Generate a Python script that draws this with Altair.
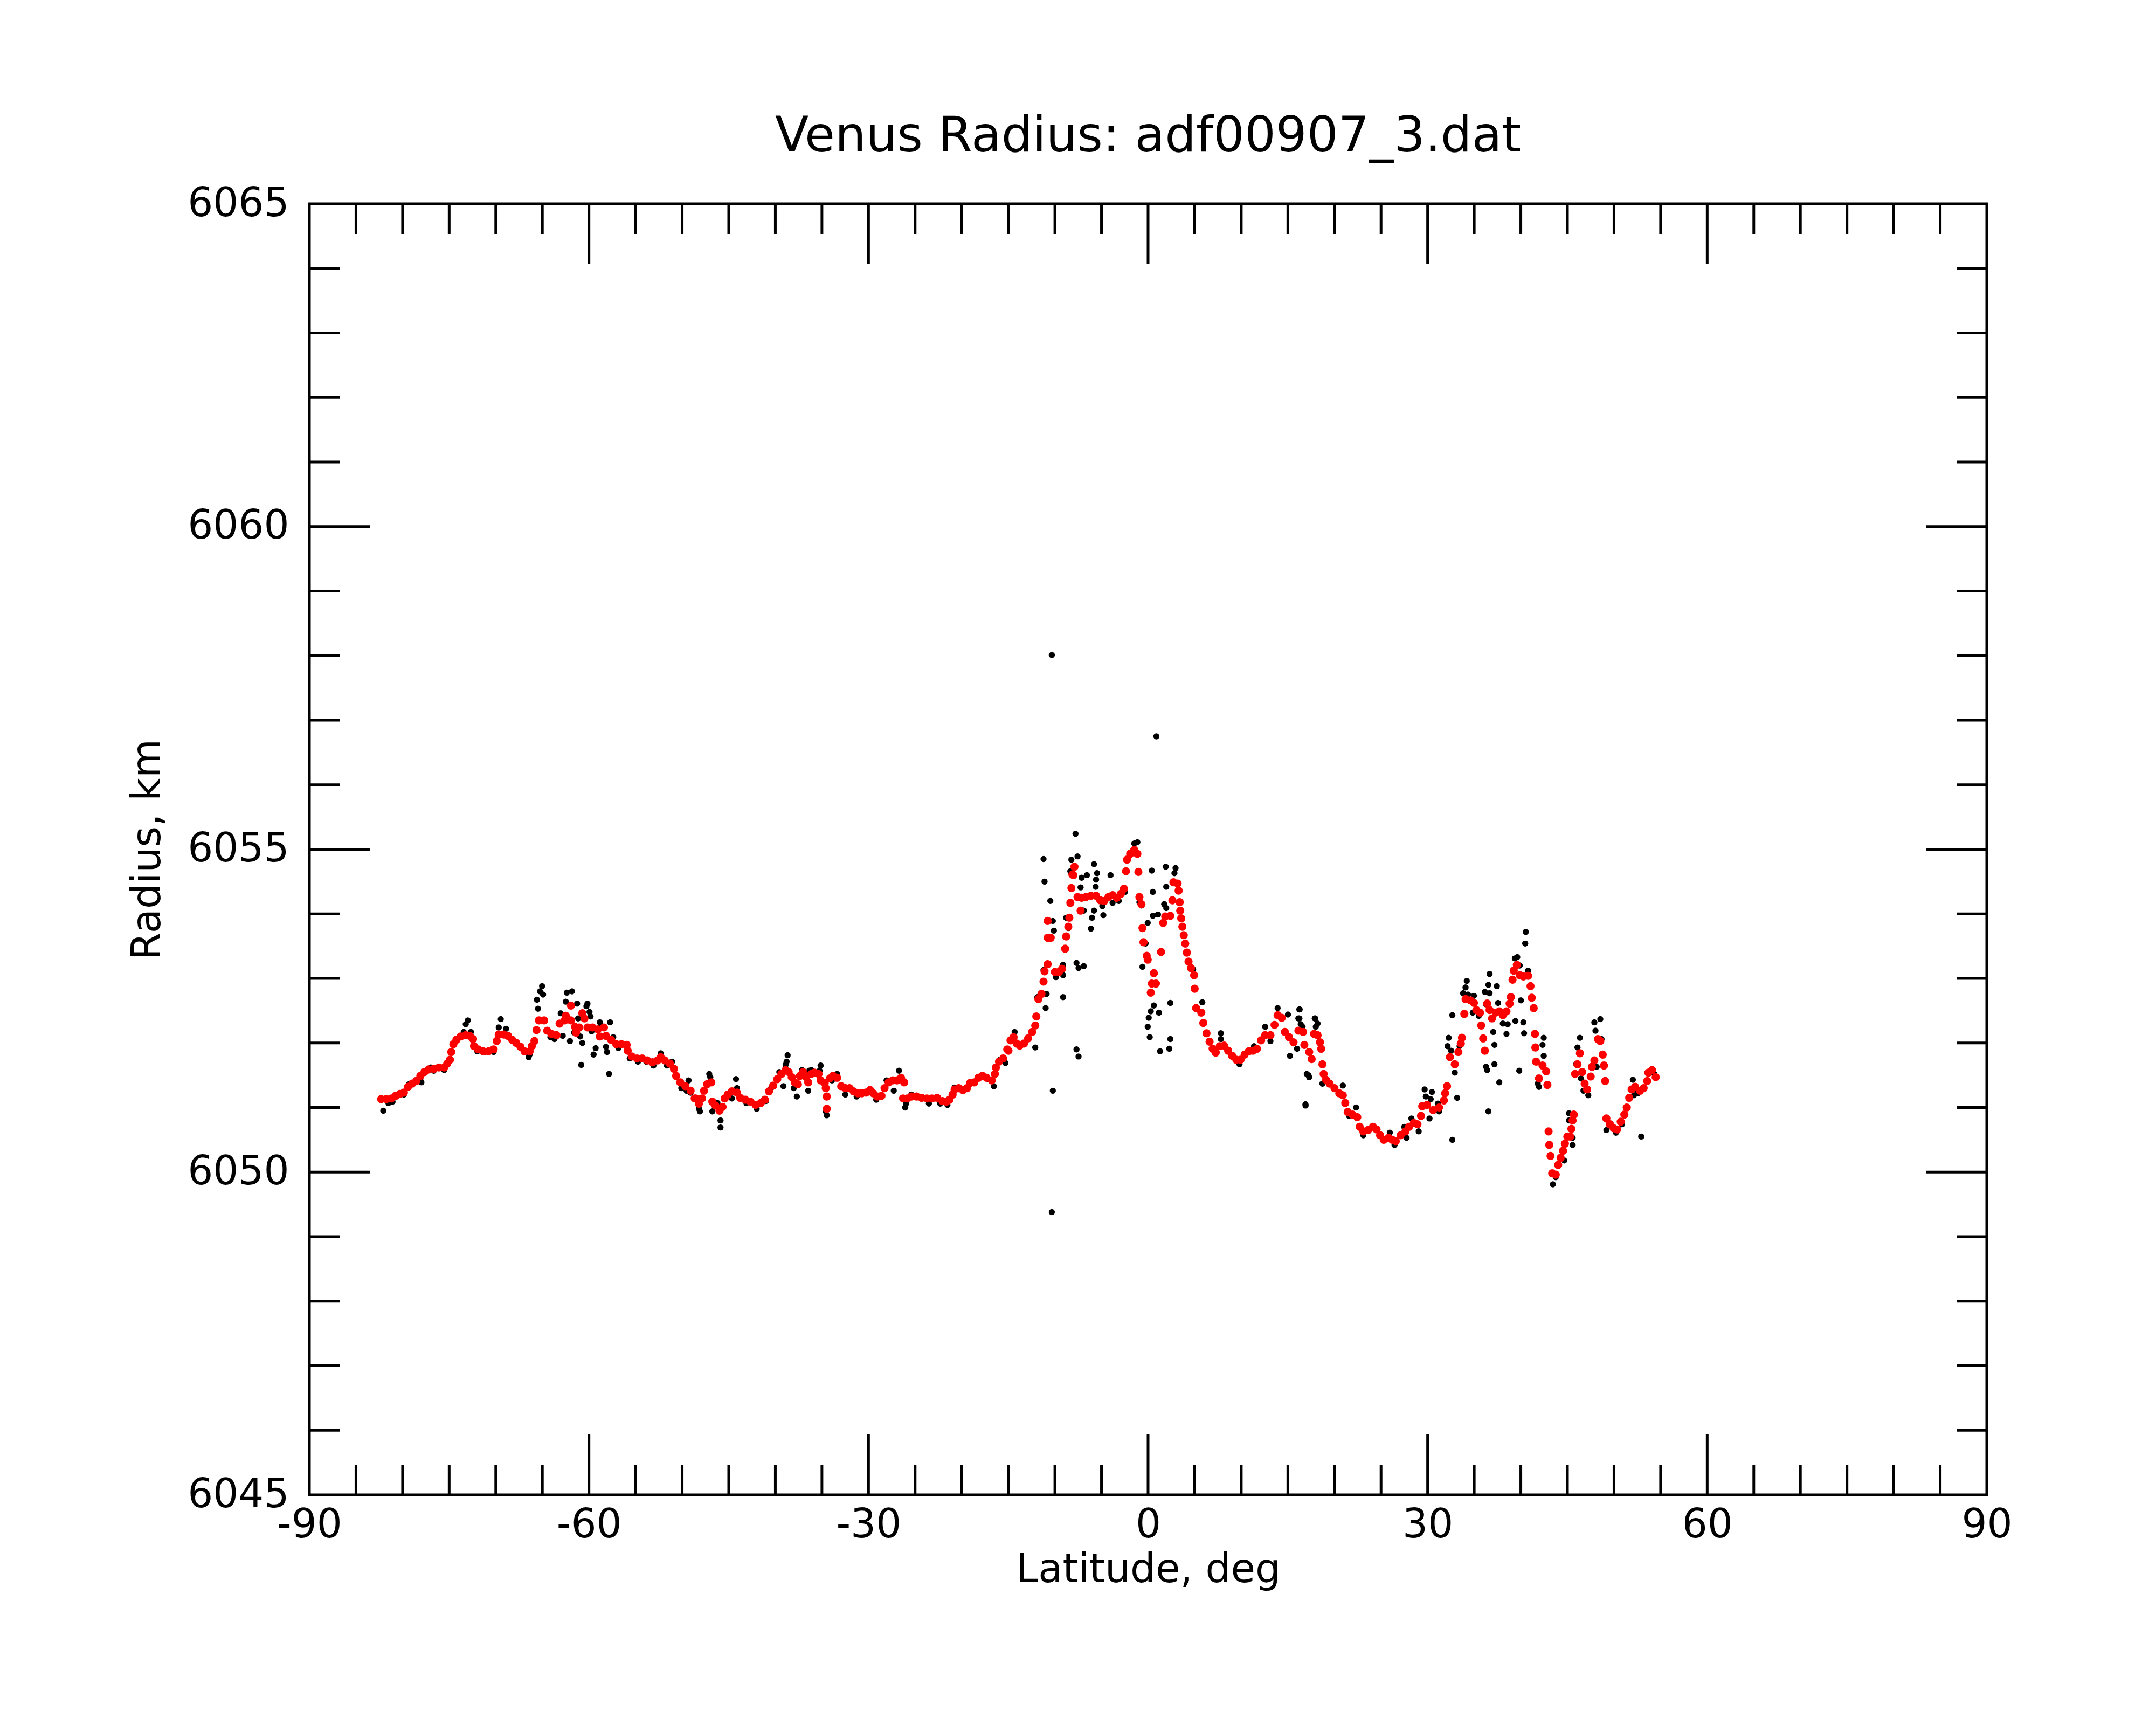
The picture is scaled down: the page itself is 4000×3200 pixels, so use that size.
import altair as alt
import pandas as pd

# ---------------- data ----------------
red_lat = [
    -82.29, -81.74, -81.19, -80.74, -80.30, -79.86, -79.42, -78.97, -78.53, -78.09,
    -77.65, -77.20, -76.65, -76.10, -75.54, -75.21, -74.92, -74.77, -74.55, -74.22,
    -73.77, -73.22, -72.78, -72.44, -72.33, -71.89, -71.34, -70.78, -70.23, -69.90,
    -69.68, -69.13, -68.68, -68.24, -67.80, -67.35, -66.91, -66.36, -66.14, -65.85,
    -65.63, -65.36, -64.81, -64.48, -64.03, -63.48, -63.15, -62.60, -62.48, -61.93,
    -61.93, -61.49, -61.38, -61.05, -60.71, -60.49, -60.16, -59.61, -59.05, -58.83,
    -58.39, -58.17, -57.62, -57.06, -56.51, -55.95, -55.84, -55.40, -54.85, -54.29,
    -53.74, -53.19, -52.64, -52.30, -51.86, -51.31, -50.87, -50.64, -50.20, -49.65,
    -49.09, -48.65,
    -48.53, -48.20, -47.87, -47.65, -47.32, -46.87, -46.76, -46.43, -45.99, -45.66,
    -45.43, -45.10, -44.66, -44.11, -43.77, -43.22, -42.67, -42.11, -41.56, -41.12,
    -40.68, -40.23, -39.79, -39.35, -38.90, -38.57, -38.24, -37.91, -37.58, -37.36,
    -37.02, -36.69, -36.47, -36.14, -35.81, -35.36, -35.14, -34.70, -34.59, -34.48,
    -34.48, -34.15, -33.81, -33.37, -32.93, -32.49, -32.04, -31.60, -31.16, -30.71,
    -30.27, -29.83, -29.50, -29.06, -28.61, -28.28, -27.84, -27.40, -26.95, -26.51,
    -26.18, -26.29, -25.85, -25.40, -24.85, -24.30, -23.74, -23.19, -22.64, -22.08,
    -21.64, -21.31, -20.98, -20.76, -20.31, -19.87, -19.43, -19.10, -18.65, -18.21,
    -17.77, -17.33, -16.77, -16.44, -16.33, -16.00, -15.55, -15.11,
    -14.98, -14.76, -14.43, -14.10, -13.77, -13.32, -12.88, -12.44, -12.11, -11.99,
    -11.77, -11.44, -11.22, -11.11, -10.78, -10.78, -10.45, -10.78, -10.00, -9.56,
    -9.23, -8.90, -8.79, -8.56, -8.45, -8.34, -8.23, -8.01, -7.90, -8.12,
    -7.57, -7.24, -7.13, -6.68, -6.13, -5.58, -5.13, -4.69, -4.25, -3.81,
    -3.36, -2.92, -2.59, -2.37, -2.26, -1.92, -1.48, -1.15, -1.04, -0.93,
    -0.71, -0.60, -0.49, -0.15, -0.04, 0.62, 0.84, 0.40, 0.29, 1.40,
    1.62, 1.84, 2.39, 2.61, 2.72, 3.17, 3.28, 3.39, 3.45, 3.56,
    3.68, 3.83, 3.99, 4.16, 4.34, 4.61, 4.94, 5.00, 5.16, 5.71,
    5.93, 6.27, 6.60, 6.93, 7.26, 7.70, 8.15, 8.59, 9.03, 9.47,
    9.92, 10.36, 10.80, 11.25, 11.69, 12.13, 12.57, 13.13, 13.57, 13.90,
    14.34, 14.68, 15.12,
    15.61, 16.13, 16.64, 16.77, 17.29, 17.55, 17.80, 18.19, 18.45, 18.58,
    18.71, 18.84, 19.10, 19.48, 20.00, 20.52, 20.90, 21.16, 21.42, 21.94,
    22.45, 22.71, 23.10, 23.61, 24.13, 24.52, 24.90, 25.29, 25.81, 26.20,
    26.58, 27.10, 27.62, 28.00, 28.52, 28.91, 29.29, 29.42, 29.94, 30.59,
    31.23, 31.75, 31.88, 32.08, 32.39, 32.91, 33.30, 33.56, 33.68, 33.94,
    34.07, 34.59, 34.97, 35.23, 35.62, 35.75, 35.96, 36.14, 36.39, 36.65,
    36.91, 37.30, 37.69, 38.07, 38.46, 38.80, 38.93, 39.11, 39.24, 39.57,
    39.88, 40.27, 40.78, 41.04, 41.17, 41.38, 41.51, 41.56, 41.64, 41.95,
    42.33, 42.72, 42.85, 42.98, 43.06, 43.19, 43.37, 43.75, 44.01, 44.27,
    44.53, 44.73, 44.99, 45.30, 45.43, 45.56, 45.69, 45.82, 46.08, 46.34,
    46.59, 46.85, 47.11, 47.50, 47.63, 47.89, 48.27, 48.53, 48.79, 48.92,
    49.05, 49.18, 49.56, 49.95, 50.34, 50.72, 51.11, 51.37, 51.63, 51.89,
    52.27, 52.79, 53.18, 53.56, 53.69, 54.08, 54.47,
]
red_rad = [
    6051.13, 6051.13, 6051.14, 6051.18, 6051.21, 6051.23, 6051.32, 6051.37, 6051.41, 6051.49,
    6051.55, 6051.59, 6051.60, 6051.62, 6051.62, 6051.68, 6051.74, 6051.86, 6051.98, 6052.05,
    6052.10, 6052.12, 6052.11, 6052.06, 6051.95, 6051.90, 6051.87, 6051.87, 6051.90, 6052.03,
    6052.13, 6052.13, 6052.11, 6052.05, 6052.00, 6051.94, 6051.87, 6051.87, 6051.95, 6052.03,
    6052.20, 6052.35, 6052.35, 6052.19, 6052.14, 6052.12, 6052.30, 6052.35, 6052.42, 6052.58,
    6052.35, 6052.25, 6052.16, 6052.24, 6052.46, 6052.38, 6052.24, 6052.24, 6052.21, 6052.10,
    6052.24, 6052.11, 6052.05, 6051.98, 6051.98, 6051.97, 6051.88, 6051.79, 6051.76, 6051.76,
    6051.73, 6051.70, 6051.73, 6051.78, 6051.73, 6051.68, 6051.60, 6051.49, 6051.39, 6051.33,
    6051.26, 6051.14,
    6051.14, 6051.06, 6051.14, 6051.26, 6051.36, 6051.39, 6051.09, 6051.03, 6050.95, 6051.01,
    6051.14, 6051.20, 6051.25, 6051.23, 6051.15, 6051.12, 6051.09, 6051.04, 6051.07, 6051.12,
    6051.25, 6051.34, 6051.44, 6051.52, 6051.58, 6051.55, 6051.47, 6051.39, 6051.36, 6051.49,
    6051.55, 6051.47, 6051.39, 6051.52, 6051.54, 6051.52, 6051.42, 6051.38, 6051.30, 6051.17,
    6050.98, 6051.45, 6051.49, 6051.46, 6051.33, 6051.30, 6051.30, 6051.25, 6051.22, 6051.22,
    6051.23, 6051.27, 6051.22, 6051.17, 6051.18, 6051.30, 6051.39, 6051.42, 6051.42, 6051.46,
    6051.39, 6051.14, 6051.14, 6051.17, 6051.17, 6051.15, 6051.14, 6051.14, 6051.15, 6051.10,
    6051.09, 6051.12, 6051.20, 6051.28, 6051.30, 6051.27, 6051.30, 6051.38, 6051.39, 6051.46,
    6051.49, 6051.46, 6051.42, 6051.52, 6051.62, 6051.71, 6051.76, 6051.90,
    6051.88, 6052.04, 6052.09, 6051.99, 6051.96, 6051.99, 6052.07, 6052.17, 6052.27, 6052.41,
    6052.68, 6052.76, 6052.95, 6053.11, 6053.22, 6053.63, 6053.63, 6053.89, 6053.10, 6053.10,
    6053.15, 6053.46, 6053.65, 6053.80, 6053.94, 6054.17, 6054.40, 6054.60, 6054.73, 6054.61,
    6054.26, 6054.05, 6054.25, 6054.26, 6054.28, 6054.28, 6054.21, 6054.20, 6054.26, 6054.29,
    6054.25, 6054.31, 6054.39, 6054.66, 6054.84, 6054.93, 6054.99, 6054.93, 6054.65, 6054.26,
    6054.15, 6053.78, 6053.56, 6053.35, 6053.29, 6053.08, 6052.92, 6052.92, 6052.78, 6053.41,
    6053.86, 6053.96, 6053.97, 6054.21, 6054.49, 6054.47, 6054.36, 6054.18, 6054.05, 6053.93,
    6053.80, 6053.67, 6053.54, 6053.40, 6053.26, 6053.16, 6053.05, 6052.84, 6052.54, 6052.47,
    6052.31, 6052.15, 6052.02, 6051.91, 6051.85, 6051.95, 6051.96, 6051.88, 6051.80, 6051.74,
    6051.74, 6051.82, 6051.87, 6051.88, 6051.91, 6052.04, 6052.12, 6052.12, 6052.28, 6052.43,
    6052.39, 6052.17, 6052.09,
    6052.01, 6052.19, 6052.17, 6051.97, 6051.86, 6051.75, 6052.14, 6052.12, 6052.01, 6051.91,
    6051.67, 6051.52, 6051.43, 6051.37, 6051.30, 6051.22, 6051.19, 6051.07, 6050.93, 6050.89,
    6050.85, 6050.70, 6050.63, 6050.65, 6050.70, 6050.66, 6050.57, 6050.50, 6050.53, 6050.50,
    6050.48, 6050.57, 6050.63, 6050.70, 6050.76, 6050.74, 6050.87, 6051.02, 6051.04, 6050.96,
    6051.00, 6051.11, 6051.22, 6051.33, 6051.78, 6051.67, 6051.86, 6051.99, 6052.08, 6052.45,
    6052.68, 6052.66, 6052.62, 6052.51, 6052.47, 6052.27, 6052.07, 6051.88, 6052.61, 6052.51,
    6052.38, 6052.47, 6052.49, 6052.43, 6052.49, 6052.61, 6052.71, 6052.98, 6053.12, 6053.21,
    6053.05, 6053.03, 6053.04, 6052.88, 6052.70, 6052.54, 6052.14, 6051.93, 6051.71, 6051.45,
    6051.65, 6051.56, 6051.35, 6050.63, 6050.42, 6050.25, 6049.98, 6049.96, 6050.11, 6050.22,
    6050.33, 6050.44, 6050.55, 6050.55, 6050.67, 6050.80, 6050.89, 6051.52, 6051.67, 6051.84,
    6051.55, 6051.37, 6051.28, 6051.48, 6051.63, 6051.73, 6052.06, 6052.03, 6051.82, 6051.65,
    6051.41, 6050.83, 6050.74, 6050.68, 6050.66, 6050.78, 6050.89, 6051.00, 6051.15, 6051.28,
    6051.32, 6051.26, 6051.30, 6051.41, 6051.54, 6051.58, 6051.47,
]

black_lat = [
    -82.07, -81.52, -81.08, -79.86, -79.31, -78.09, -77.98, -76.98, -76.65, -75.54,
    -73.44, -73.22, -73.00, -72.67, -71.98, -71.23, -70.23, -69.68, -69.46, -68.90,
    -66.47, -66.36, -65.47, -65.58, -65.25, -65.03, -64.92, -64.14, -63.70, -62.81,
    -63.03, -62.48, -62.37, -61.82, -61.27, -61.16, -62.04, -61.60, -60.94, -60.83,
    -60.71, -60.16, -60.27, -59.94, -59.83, -59.72, -59.50, -59.28, -58.83, -58.72,
    -58.17, -58.06, -57.84, -57.73, -57.39, -56.84, -55.62, -54.74, -53.85, -53.08,
    -52.30, -51.63, -51.09, -50.09, -49.31, -49.09,
    -49.53, -48.09, -48.20, -47.09, -46.98, -46.76, -46.21, -45.88, -45.88, -44.66,
    -44.22, -44.11, -43.11, -42.00, -41.01, -40.45, -39.57, -39.13, -38.90, -38.68,
    -38.79, -38.02, -37.69, -37.14, -36.47, -36.36, -36.14, -35.14, -35.25, -34.48,
    -34.59, -33.92, -33.37, -32.49, -31.27, -29.83, -29.17, -28.06, -27.29, -26.73,
    -26.06, -25.96, -25.40, -23.52, -22.31, -21.53, -20.76, -18.98, -17.21, -16.55,
    -15.89,
    -15.31, -14.32, -13.99, -12.11, -11.88, -10.89, -10.99, -11.22, -10.22, -10.49,
    -11.22, -11.11, -10.22, -10.11, -9.89, -9.12, -9.12, -9.12, -8.90, -8.79,
    -8.56, -8.34, -8.23, -7.79, -7.57, -7.68, -7.46, -6.90, -7.68, -7.46,
    -7.13, -6.57, -7.24, -6.90, -6.02, -6.13, -5.80, -5.80, -5.47, -5.58,
    -5.62, -4.91, -4.80, -4.03, -3.81, -3.14, -2.48, -1.48, -1.15, -0.93,
    -0.71, -0.60, -0.26, -0.04, 0.40, 0.51, 0.51, 1.06, 1.90, 1.95,
    1.73, 1.95, 2.39, 0.62, 0.29, 0.07, -0.04, 0.18, 1.17, 1.29,
    2.28, 2.39, 2.95, 2.83, 4.83, 4.94, 5.82, 7.81, 7.81, 9.81,
    11.37, 12.57, 13.13, 13.90, 15.01, 15.23, 16.24, 16.24, 16.58, 17.22,
    16.89, 17.89, 18.00,
    -10.33, -10.33, 0.89,
    16.26, 16.13, 16.38, 15.99, 16.77, 17.93, 18.19, 17.03, 17.29, 16.90,
    18.71, 20.90, 20.64, 22.32, 21.55, 23.10, 25.94, 26.45, 27.49, 28.26,
    27.74, 29.04, 29.68, 29.81, 30.46, 30.33, 30.20, 31.10, 31.23, 32.65,
    33.17, 32.26, 32.14, 32.52, 32.91, 33.43, 32.65, 34.20, 34.07, 33.81,
    34.33, 34.97, 34.84, 35.49, 36.65, 36.52, 36.14, 36.65, 37.43, 37.56,
    36.27, 36.27, 36.39, 37.04, 37.17, 37.17, 36.52, 37.69, 38.07, 38.46,
    38.59, 39.36, 39.62, 39.24, 39.88, 40.53, 40.47, 40.78, 40.01, 39.42,
    40.27, 40.35, 39.83, 42.46, 42.33, 42.46, 41.95, 41.82, 45.17, 45.17,
    45.56, 45.56, 43.44, 43.75, 44.66, 46.34, 46.08, 45.95, 46.46, 46.72,
    47.24, 47.89, 48.53, 48.01, 48.66, 48.14, 49.18, 50.21, 50.85, 52.02,
    52.14, 52.92, 52.53, 54.34,
]
black_rad = [
    6050.95, 6051.07, 6051.09, 6051.20, 6051.36, 6051.42, 6051.39, 6051.62, 6051.57, 6051.58,
    6052.17, 6052.29, 6052.35, 6052.17, 6051.87, 6051.86, 6051.86, 6052.24, 6052.37, 6052.22,
    6051.78, 6051.82, 6052.53, 6052.67, 6052.80, 6052.88, 6052.75, 6052.09, 6052.06, 6052.11,
    6052.46, 6052.64, 6052.78, 6052.80, 6052.61, 6052.38, 6052.03, 6052.16, 6052.10, 6051.66,
    6052.00, 6052.61, 6052.57, 6052.48, 6052.41, 6052.18, 6051.82, 6051.92, 6052.32, 6052.25,
    6051.94, 6051.86, 6051.52, 6052.32, 6052.09, 6051.92, 6051.76, 6051.71, 6051.71, 6051.65,
    6051.84, 6051.65, 6051.71, 6051.30, 6051.42, 6051.23,
    6051.26, 6050.94, 6050.98, 6051.52, 6051.47, 6050.94, 6051.07, 6050.80, 6050.69, 6051.14,
    6051.44, 6051.30, 6051.07, 6050.98, 6051.10, 6051.30, 6051.55, 6051.33, 6051.66, 6051.81,
    6051.71, 6051.30, 6051.17, 6051.58, 6051.26, 6051.57, 6051.58, 6051.65, 6051.57, 6050.88,
    6050.94, 6051.42, 6051.52, 6051.20, 6051.17, 6051.25, 6051.12, 6051.42, 6051.26, 6051.57,
    6051.00, 6051.06, 6051.20, 6051.06, 6051.06, 6051.04, 6051.31, 6051.39, 6051.44, 6051.33,
    6051.74,
    6051.69, 6052.17, 6051.98, 6051.93, 6052.71, 6052.76, 6052.54, 6053.13, 6051.26, 6054.20,
    6054.85, 6054.50, 6053.89, 6053.74, 6053.02, 6053.05, 6052.71, 6053.21, 6053.46, 6053.94,
    6053.78, 6054.66, 6054.84, 6055.24, 6054.89, 6053.24, 6053.16, 6053.19, 6051.90, 6051.79,
    6054.56, 6054.60, 6054.41, 6054.05, 6053.94, 6053.77, 6054.05, 6054.77, 6054.63, 6054.53,
    6054.42, 6054.12, 6053.98, 6054.60, 6054.17, 6054.20, 6054.34, 6055.09, 6055.11, 6054.18,
    6054.13, 6053.18, 6053.54, 6053.86, 6054.67, 6053.97, 6054.34, 6053.99, 6054.73, 6054.42,
    6054.15, 6054.09, 6052.62, 6052.58, 6052.49, 6052.39, 6052.25, 6052.09, 6052.47, 6051.87,
    6051.91, 6052.06, 6054.71, 6054.63, 6053.14, 6053.05, 6052.63, 6052.15, 6052.06, 6051.67,
    6051.95, 6052.25, 6052.03, 6052.54, 6052.44, 6051.80, 6052.52, 6052.38, 6052.25, 6051.50,
    6051.05, 6052.38, 6052.25,
    6058.01, 6049.38, 6056.75,
    6052.52, 6052.38, 6052.29, 6051.91, 6051.97, 6052.38, 6052.30, 6051.52, 6051.47, 6051.03,
    6051.37, 6051.34, 6051.22, 6051.00, 6050.87, 6050.57, 6050.61, 6050.42, 6050.70, 6050.83,
    6050.53, 6050.63, 6051.28, 6051.17, 6051.24, 6051.13, 6050.83, 6051.06, 6050.94, 6050.50,
    6051.15, 6052.08, 6051.95, 6051.88, 6051.54, 6051.95, 6052.43, 6052.96, 6052.86, 6052.77,
    6052.75, 6052.73, 6052.47, 6052.42, 6053.07, 6052.90, 6052.79, 6052.77, 6052.88, 6052.62,
    6052.60, 6051.63, 6051.58, 6052.17, 6051.97, 6051.67, 6050.94, 6051.39, 6052.30, 6052.14,
    6052.29, 6053.31, 6053.33, 6053.12, 6053.20, 6053.72, 6053.54, 6053.12, 6052.66, 6052.34,
    6052.32, 6052.15, 6051.57, 6052.08, 6051.97, 6051.80, 6051.32, 6051.37, 6050.91, 6050.80,
    6050.53, 6050.42, 6049.81, 6049.92, 6050.18, 6052.08, 6051.93, 6051.67, 6051.45, 6051.26,
    6051.19, 6052.32, 6052.37, 6052.19, 6052.06, 6051.63, 6050.65, 6050.61, 6050.74, 6051.43,
    6051.19, 6050.55, 6051.22, 6051.52,
]

x_labels = [-90, -60, -30, 0, 30, 60, 90]
y_labels = [6045, 6050, 6055, 6060, 6065]
x_major = [-60, -30, 0, 30, 60]
x_minor = [-85, -80, -75, -70, -65, -55, -50, -45, -40, -35, -25, -20, -15, -10, -5,
           5, 10, 15, 20, 25, 35, 40, 45, 50, 55, 65, 70, 75, 80, 85]
y_major = [6050, 6055, 6060]
y_minor = [6046, 6047, 6048, 6049, 6051, 6052, 6053, 6054, 6056, 6057, 6058, 6059,
           6061, 6062, 6063, 6064]

# ---------------- chart ----------------
W, H = 3112, 2395
FONT = "DejaVu Sans"
MINOR, MAJOR = 56, 112

xscale = alt.Scale(domain=[-90, 90], nice=False, zero=False)
yscale = alt.Scale(domain=[6045, 6065], nice=False, zero=False)

red_df = pd.DataFrame({"lat": red_lat, "rad": red_rad})
black_df = pd.DataFrame({"lat": black_lat, "rad": black_rad})

x_axis = alt.Axis(
    values=x_labels, labelExpr="(datum.value < 0 ? '-' : '') + abs(datum.value)",
    labelFont=FONT, labelFontSize=74, labelColor="black", labelPadding=20, labelLimit=0,
    labelFlush=False, labelOverlap=False, ticks=False, tickSize=0, domain=False, grid=False,
    title="Latitude, deg", titleFont=FONT, titleFontSize=74, titleFontWeight="normal",
    titleColor="black", titleBaseline="alphabetic", titleAlign="center",
    titleX=W / 2, titleY=161,
)
y_axis = alt.Axis(
    values=y_labels, format="d",
    labelFont=FONT, labelFontSize=74, labelColor="black", labelPadding=38, labelLimit=0,
    labelFlush=False, labelOverlap=False, ticks=False, tickSize=0, domain=False, grid=False,
    title="Radius, km", titleFont=FONT, titleFontSize=74, titleFontWeight="normal",
    titleColor="black", titleBaseline="alphabetic", titleAlign="center", titleAngle=270,
    titleX=-278, titleY=H / 2,
)


def vticks(vals, y0, y1):
    return alt.Chart(pd.DataFrame({"v": vals})).mark_rule(
        color="black", strokeWidth=5
    ).encode(
        x=alt.X("v:Q", scale=xscale, axis=x_axis),
        y=alt.value(y0), y2=alt.value(y1),
    )


def hticks(vals, x0, x1):
    return alt.Chart(pd.DataFrame({"v": vals})).mark_rule(
        color="black", strokeWidth=5
    ).encode(
        y=alt.Y("v:Q", scale=yscale, axis=y_axis),
        x=alt.value(x0), x2=alt.value(x1),
    )


black = alt.Chart(black_df).mark_circle(size=130, color="black", opacity=1).encode(
    x=alt.X("lat:Q", scale=xscale, axis=x_axis),
    y=alt.Y("rad:Q", scale=yscale, axis=y_axis),
)
red = alt.Chart(red_df).mark_circle(size=230, color="#ff0000", opacity=1).encode(
    x=alt.X("lat:Q", scale=xscale, axis=x_axis),
    y=alt.Y("rad:Q", scale=yscale, axis=y_axis),
)

chart = alt.layer(
    black, red,
    vticks(x_minor, 0, MINOR), vticks(x_major, 0, MAJOR),
    vticks(x_minor, H, H - MINOR), vticks(x_major, H, H - MAJOR),
    hticks(y_minor, 0, MINOR), hticks(y_major, 0, MAJOR),
    hticks(y_minor, W, W - MINOR), hticks(y_major, W, W - MAJOR),
).properties(
    width=W, height=H,
    title=alt.TitleParams(
        "Venus Radius: adf00907_3.dat", font=FONT, fontSize=91, fontWeight="normal",
        color="black", anchor="middle", baseline="alphabetic", frame="group", offset=4, dy=35,
    ),
    padding={"left": 566, "top": 370, "right": 306, "bottom": 419},
    autosize=alt.AutoSizeParams(type="none"),
    background="white",
).configure_view(stroke="black", strokeWidth=5)

chart.save("out.html", embed_options={"renderer": "svg", "actions": False})
